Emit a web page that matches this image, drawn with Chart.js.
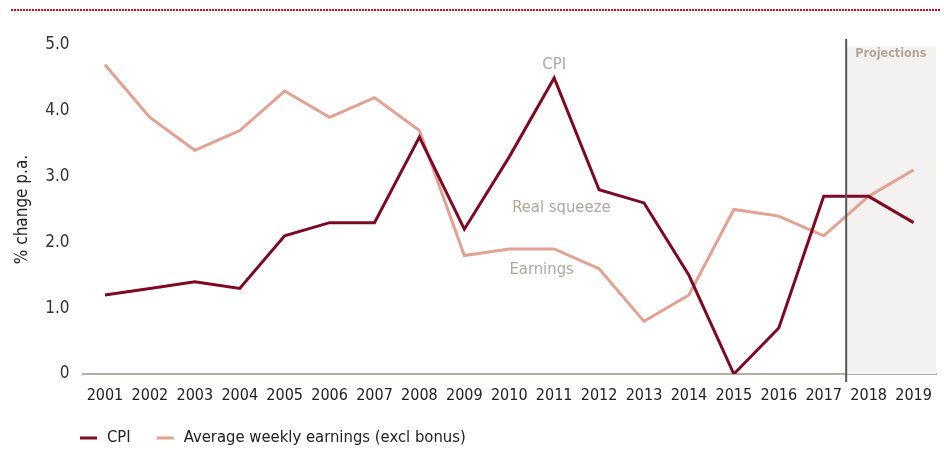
<!DOCTYPE html>
<html>
<head>
<meta charset="utf-8">
<script src="https://cdn.jsdelivr.net/npm/chart.js@4.4.1/dist/chart.umd.min.js"></script>
<style>
  html, body { margin: 0; padding: 0; background: #fff; }
  #wrap { width: 944px; height: 451px; position: relative; }
</style>
</head>
<body>
<div id="wrap"><canvas id="chart"></canvas></div>
<script>
// CPI vs average weekly earnings growth, % change p.a.
const years = ["2001", "2002", "2003", "2004", "2005", "2006", "2007", "2008", "2009", "2010",
  "2011", "2012", "2013", "2014", "2015", "2016", "2017", "2018", "2019"];
const cpi = [1.2, 1.3, 1.4, 1.3, 2.1, 2.3, 2.3, 3.6, 2.2, 3.3, 4.5, 2.8, 2.6, 1.5, 0.0, 0.7, 2.7, 2.7, 2.3];
const earnings = [4.7, 3.9, 3.4, 3.7, 4.3, 3.9, 4.2, 3.7, 1.8, 1.9, 1.9, 1.6, 0.8, 1.2, 2.5, 2.4, 2.1, 2.7, 3.1];
const yTicks = [0, 1, 2, 3, 4, 5];
const firstProjection = "2018";

const FONT = "'DejaVu Sans Condensed', 'Liberation Sans Narrow', sans-serif";
const CPI_COLOR = "#7d0a22";
const EARN_COLOR = "#e2a291";
const NOTE_COLOR = "#b2a79e";

// shaded forecast band, divider, text notes, top rule and legend
const extras = {
  id: "extras",
  beforeDatasetsDraw(chart) {
    const { ctx, chartArea, scales } = chart;
    const x = scales.x;
    const i = years.indexOf(firstProjection);
    const split = (x.getPixelForValue(i - 1) + x.getPixelForValue(i)) / 2;
    ctx.save();
    ctx.fillStyle = "#f4f2f0";
    ctx.fillRect(split, chartArea.top + 2, chartArea.right - split, chartArea.bottom - chartArea.top - 2);
    ctx.restore();
  },
  afterDatasetsDraw(chart) {
    const { ctx, chartArea, scales } = chart;
    const x = scales.x, y = scales.y;
    const i = years.indexOf(firstProjection);
    const split = (x.getPixelForValue(i - 1) + x.getPixelForValue(i)) / 2;

    ctx.save();
    ctx.strokeStyle = "#555";
    ctx.lineWidth = 2;
    ctx.beginPath();
    ctx.moveTo(split, chartArea.top - 6);
    ctx.lineTo(split, chartArea.bottom + 8);
    ctx.stroke();

    ctx.fillStyle = NOTE_COLOR;
    ctx.textBaseline = "middle";
    ctx.font = "bold 12.5px " + FONT;
    ctx.textAlign = "left";
    ctx.fillText("Projections", split + 9, y.getPixelForValue(4.87));

    ctx.textAlign = "center";
    ctx.font = "16.5px " + FONT;
    ctx.fillText("CPI", x.getPixelForValue(10), y.getPixelForValue(4.7));
    ctx.fillText("Real squeeze", x.getPixelForValue(10.16), y.getPixelForValue(2.52));
    ctx.fillText("Earnings", x.getPixelForValue(9.72), y.getPixelForValue(1.58));

    // dotted rule across the top
    ctx.strokeStyle = "#d3001c";
    ctx.lineWidth = 2;
    ctx.setLineDash([2, 1]);
    ctx.beginPath();
    ctx.moveTo(11, 10);
    ctx.lineTo(940, 10);
    ctx.stroke();
    ctx.setLineDash([]);

    // legend
    ctx.textAlign = "left";
    ctx.font = "16.5px " + FONT;
    let lx = 80;
    const ly = 438;
    chart.data.datasets.forEach(ds => {
      ctx.fillStyle = ds.borderColor;
      ctx.fillRect(lx, ly - 1.5, 17, 3);
      ctx.fillStyle = "#222";
      ctx.fillText(ds.label, lx + 27, ly);
      lx += 27 + ctx.measureText(ds.label).width + 26;
    });
    ctx.restore();
  }
};

new Chart(document.getElementById("chart"), {
  type: "line",
  data: {
    labels: years,
    datasets: [
      { label: "CPI", data: cpi, borderColor: CPI_COLOR, borderWidth: 3, pointRadius: 0, tension: 0 },
      { label: "Average weekly earnings (excl bonus)", data: earnings, borderColor: EARN_COLOR, borderWidth: 3, pointRadius: 0, tension: 0 },
    ],
  },
  options: {
    responsive: true,
    maintainAspectRatio: false,
    animation: false,
    layout: { padding: { top: 45, right: 5, left: 0, bottom: 0 } },
    plugins: {
      legend: { display: false },
      tooltip: { enabled: false },
    },
    scales: {
      x: {
        offset: true,
        grid: { display: false, drawTicks: false },
        border: { display: true, color: "#b8ada3", width: 2 },
        ticks: { color: "#222", font: { family: FONT, size: 16 }, padding: 12, maxRotation: 0, autoSkip: false },
        afterFit: s => { s.height = 77; },
      },
      y: {
        min: 0,
        max: 5,
        grid: { display: false, drawTicks: false },
        border: { display: false },
        afterBuildTicks: s => { s.ticks = yTicks.map(v => ({ value: v })); },
        ticks: {
          color: "#333",
          font: { family: FONT, size: 17 },
          padding: 13,
          callback: v => (v === 0 ? "0" : v.toFixed(1)),
        },
        title: {
          display: true,
          text: "% change p.a.",
          color: "#222",
          font: { family: FONT, size: 17 },
          padding: { top: 12, bottom: 0 },
        },
        afterFit: s => { s.width = 82.5; },
      },
    },
  },
  plugins: [extras],
});
</script>
</body>
</html>
